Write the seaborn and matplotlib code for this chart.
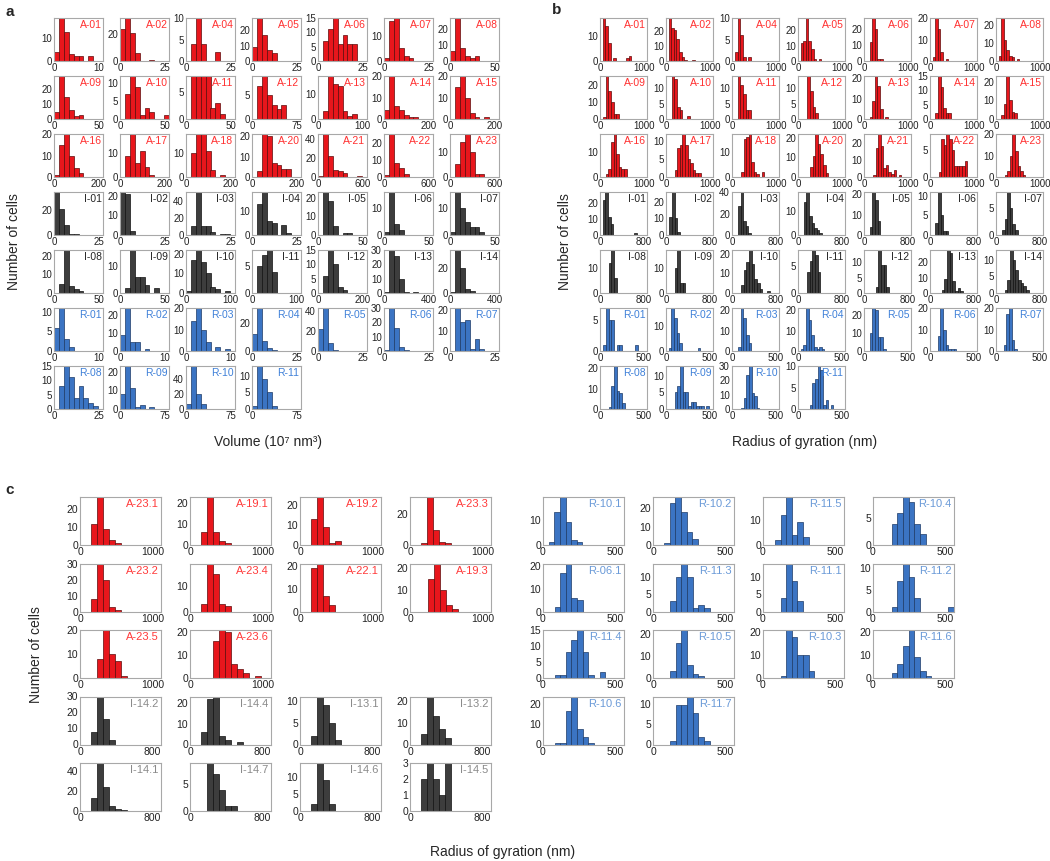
import numpy as np
import pandas as pd
import matplotlib
matplotlib.use("Agg")
import matplotlib.pyplot as plt
from matplotlib.ticker import MaxNLocator
import seaborn as sns

sns.set_style("white")
plt.rcParams['font.family'] = ['Liberation Sans', 'DejaVu Sans']

# ---------------- Panel a : Volume (10^7 nm^3) ----------------
a_labels = ["A-01", "A-02", "A-04", "A-05", "A-06", "A-07", "A-08",
            "A-09", "A-10", "A-11", "A-12", "A-13", "A-14", "A-15",
            "A-16", "A-17", "A-18", "A-20", "A-21", "A-22", "A-23",
            "I-01", "I-02", "I-03", "I-04", "I-05", "I-06", "I-07",
            "I-08", "I-09", "I-10", "I-11", "I-12", "I-13", "I-14",
            "R-01", "R-02", "R-03", "R-04", "R-05", "R-06", "R-07",
            "R-08", "R-09", "R-10", "R-11"]
# labelled x tick (the axis runs a little past it)
a_xmax = [10, 25, 25, 25, 25, 25, 50,
          50, 50, 50, 75, 100, 200, 200,
          200, 200, 200, 200, 600, 600, 600,
          25, 25, 25, 25, 50, 50, 50,
          50, 50, 100, 100, 200, 400, 400,
          10, 10, 10, 25, 25, 25, 25,
          25, 75, 75, 75]
a_width = [1.1, 2.75, 2.75, 2.75, 2.75, 2.75, 5.5,
           5.5, 5.5, 5.5, 8.25, 11, 22, 22,
           22, 22, 22, 22, 66, 66, 66,
           2.75, 2.75, 2.75, 2.75, 5.5, 5.5, 5.5,
           5.5, 5.5, 11, 11, 22, 44, 44,
           1.1, 1.1, 1.1, 2.75, 2.75, 2.75, 2.75,
           2.75, 8.25, 8.25, 8.25]
a_counts = [[4, 19, 13, 3, 2, 2, 0, 2], [24, 32, 21, 6, 0, 0, 1], [0, 4, 10, 4, 0, 0, 2],
            [9, 28, 17, 7, 5], [0, 7, 11, 15, 6, 9, 6, 6], [1, 16, 17, 5, 2, 1], [6, 27, 8, 3, 2, 3],
            [5, 29, 15, 6, 2, 3], [0, 7, 12, 9, 1, 3, 2, 0, 0, 1], [0, 8, 8, 8, 8, 2, 3, 1],
            [0, 7, 9, 5, 3, 2, 3], [0, 3, 17, 14, 13, 3, 1, 2], [4, 20, 6, 4, 2, 1, 1],
            [0, 15, 20, 10, 3, 1, 0, 1],
            [1, 15, 20, 10, 4, 2], [0, 9, 18, 6, 11, 4, 1], [0, 10, 18, 18, 11, 3, 0, 1],
            [0, 3, 21, 20, 7, 6, 4, 4], [1, 45, 22, 7, 6, 4, 0, 0, 1], [1, 25, 8, 5, 2],
            [0, 5, 14, 17, 10, 1, 1],
            [35, 21, 8, 1, 1], [22, 21, 2], [0, 10, 50, 11, 10, 4, 0, 1, 1], [0, 13, 18, 6, 5, 0, 4, 1],
            [0, 23, 18, 5, 0, 1, 1], [1, 16, 4, 2], [1, 16, 10, 5, 3, 3, 1],
            [0, 5, 23, 4, 2, 1], [0, 2, 16, 6, 6, 3, 0, 2], [1, 17, 22, 16, 10, 3, 2, 0, 1],
            [0, 5, 7, 8, 4], [0, 6, 15, 10, 2, 1], [1, 30, 26, 10, 1, 0, 1], [1, 35, 20, 3, 2],
            [6, 11, 3, 1], [9, 24, 5, 5, 0, 1], [0, 14, 20, 10, 4, 0, 2, 0, 1], [12, 31, 7, 2, 1],
            [22, 43, 8, 1], [1, 30, 16, 3, 1], [0, 21, 14, 15, 1, 6, 1],
            [0, 8, 15, 11, 4, 8, 4, 2, 1], [8, 23, 11, 1, 2, 0, 1], [6, 57, 20, 7], [1, 13, 9, 5, 1]]

# ---------------- Panel b : Radius of gyration (nm) ----------------
b_labels = list(a_labels)
b_xmax = [1000] * 21 + [800] * 14 + [500] * 11
b_width = [59] * 21 + [48] * 14 + [30] * 11
b_start = [64, 59, 75, 59, 128, 59, 59,
           75, 134, 134, 214, 128, 123, 121,
           134, 198, 203, 273, 203, 198, 198,
           48, 59, 107, 102, 102, 96, 107,
           160, 160, 166, 166, 214, 214, 160,
           39, 31, 68, 31, 65, 88, 88,
           100, 100, 103, 134]
b_counts = [[17, 14, 7, 0, 1, 0, 0, 0, 0, 1, 2], [29, 22, 21, 15, 6, 3, 1, 0, 0, 1], [2, 10, 6, 1, 0, 1],
            [12, 13, 28, 13, 8, 1, 0, 1], [12, 27, 20, 1, 1], [2, 20, 15, 4, 0, 1], [3, 24, 12, 6, 3, 2, 0, 1],
            [1, 25, 16, 10, 3, 3], [14, 13, 4, 3, 0, 0, 1], [14, 11, 8, 3, 3], [14, 9, 4, 2],
            [1, 9, 21, 16, 5, 0, 1], [2, 15, 11, 4, 2, 2], [2, 8, 23, 10, 4, 3],
            [1, 3, 14, 17, 9, 4, 3, 3], [2, 8, 9, 12, 9, 5, 4, 2, 1, 1], [2, 15, 16, 17, 6, 2, 1, 0, 2],
            [5, 11, 22, 17, 12, 6, 2], [1, 17, 25, 18, 5, 7, 3, 2, 4, 0, 1],
            [1, 7, 6, 8, 7, 5, 2, 2, 2, 2, 3], [1, 3, 10, 20, 12, 5, 3, 1],
            [22, 27, 11, 7, 0, 0, 0, 0, 0, 0, 0, 0, 1], [11, 26, 10, 2], [27, 40, 13, 8, 2],
            [14, 18, 8, 5, 3, 2, 1], [4, 21, 17, 7], [3, 11, 5, 1, 1], [1, 3, 8, 5, 2, 1],
            [12, 17, 6], [10, 17, 4, 4], [4, 12, 16, 22, 15, 7, 5, 2, 0, 0, 1], [4, 6, 8, 7, 4],
            [2, 14, 9, 9, 2], [2, 9, 28, 26, 8, 1, 3, 1], [1, 4, 13, 10, 7, 4, 3, 2, 1],
            [1, 7, 5, 5, 0, 1, 1, 0, 0, 0, 0, 0, 1], [1, 17, 13, 7, 3, 0, 0, 0, 0, 0, 0, 1],
            [2, 21, 16, 8, 4], [1, 3, 21, 15, 8, 2, 1, 2, 1], [10, 24, 23, 8, 8, 1],
            [7, 20, 10, 3, 1, 1, 1], [3, 17, 20, 5, 1],
            [1, 11, 21, 9, 8, 3], [5, 7, 13, 5, 5, 1, 2, 2, 1, 1, 1, 0, 1], [1, 8, 24, 30, 11, 9, 1],
            [1, 6, 7, 10, 9, 1, 2, 0, 1]]

# ---------------- Panel c : Radius of gyration (nm), sub-clones ----------------
c_left_labels = ["A-23.1", "A-19.1", "A-19.2", "A-23.3",
                 "A-23.2", "A-23.4", "A-22.1", "A-19.3",
                 "A-23.5", "A-23.6",
                 "I-14.2", "I-14.4", "I-13.1", "I-13.2",
                 "I-14.1", "I-14.7", "I-14.6", "I-14.5"]
c_left_xmax = [1000] * 10 + [800] * 8
c_left_width = [83] * 10 + [66] * 8
c_left_start = [152, 149, 149, 158, 152, 149, 149, 243, 235, 317,
                122, 120, 120, 127, 122, 187, 120, 127]
c_left_counts = [[12, 27, 9, 3, 1], [6, 23, 6, 2, 1], [13, 24, 9, 1, 2], [1, 31, 10, 2, 1],
                 [8, 30, 20, 3, 1], [3, 19, 15, 3, 2], [19, 21, 7, 3], [15, 22, 10, 3, 1],
                 [8, 20, 10, 7, 1], [16, 21, 20, 6, 4, 2, 0, 1],
                 [8, 30, 16, 3], [6, 22, 23, 4, 2, 0, 1], [2, 11, 9, 5, 1], [5, 22, 13, 7, 3],
                 [13, 48, 24, 5, 2, 1], [9, 7, 4, 1, 1], [2, 14, 9, 2], [2, 3, 2, 1, 3]]

c_right_labels = ["R-10.1", "R-10.2", "R-11.5", "R-10.4",
                  "R-06.1", "R-11.3", "R-11.1", "R-11.2",
                  "R-11.4", "R-10.5", "R-10.3", "R-11.6",
                  "R-10.6", "R-11.7"]
c_right_xmax = [500] * 14
c_right_width = [39] * 14
c_right_start = [39, 77, 82, 129, 80, 118, 121, 129, 80, 118, 121, 129, 80, 118]
c_right_counts = [[1, 13, 19, 9, 2, 1], [1, 23, 26, 18, 7, 3], [2, 12, 19, 4, 9, 3], [4, 6, 9, 8, 4, 2],
                  [2, 17, 21, 6, 5], [3, 10, 14, 10, 1, 2, 1], [4, 14, 9, 3], [1, 7, 11, 8, 3, 0, 0, 0, 0, 0, 1],
                  [1, 1, 8, 12, 15, 8, 1, 0, 2], [3, 16, 22, 6, 2, 1], [1, 21, 18, 10, 10, 3],
                  [2, 6, 14, 21, 9, 3, 1],
                  [1, 1, 17, 24, 8, 4, 1], [1, 10, 10, 12, 8, 2, 1]]

# ---------------- styling ----------------
BAR = {"A": ("#E8161C", "#5c0b0b"), "I": ("#3d3d3d", "#111111"), "R": ("#3B74C3", "#1d3a66")}
TXT_AB = {"A": "#FF3030", "I": "#222222", "R": "#3F80D8"}
TXT_C = {"A": "#FF3A3A", "I": "#8a8a8a", "R": "#6A9AD8"}

W, H = 1050, 861
fig = plt.figure(figsize=(W / 100, H / 100), dpi=100)


def add_ax(left, top, w, h):
    return fig.add_axes([left / W, 1 - (top + h) / H, w / W, h / H])


def draw(ax, label, counts, start, width, xmax, pad, txtcol, tfs, lfs):
    counts = np.asarray(counts, dtype=float)
    edges = start + width * np.arange(len(counts) + 1)
    centers = (edges[:-1] + edges[1:]) / 2
    df = pd.DataFrame({"x": centers, "w": counts})
    fc, ec = BAR[label[0]]
    sns.histplot(data=df, x="x", weights="w", bins=list(edges), ax=ax, color=fc,
                 edgecolor=ec, linewidth=0.5, alpha=1.0)
    ax.set_xlim(0, xmax * pad)
    ax.set_ylim(0, counts.max())
    ax.set_xticks([0, xmax])
    ax.set_xticklabels(["0", f"{xmax:g}"])
    ax.yaxis.set_major_locator(MaxNLocator(nbins=3, steps=[1, 2, 5, 10], integer=True))
    ax.set_xlabel("")
    ax.set_ylabel("")
    ax.tick_params(axis="both", direction="in", length=2, width=0.5, color="#888888",
                   labelsize=tfs, pad=1.5, labelcolor="#222222")
    for s in ax.spines.values():
        s.set_color("#a8a8a8")
        s.set_linewidth(0.8)
    ax.text(0.97, 0.95, label, transform=ax.transAxes, ha="right", va="top",
            fontsize=lfs, color=txtcol)


# panel a and b grids
rows_a = [7, 7, 7, 7, 7, 7, 4]
for panel, (labels, xmaxs, widths, starts, counts, left0, aw, pad) in {
        "a": (a_labels, a_xmax, a_width, [0] * len(a_labels), a_counts, 54, 49, 1.1),
        "b": (b_labels, b_xmax, b_width, b_start, b_counts, 600, 47, 1.07)}.items():
    k = 0
    for i, n in enumerate(rows_a):
        for j in range(n):
            ax = add_ax(left0 + 66 * j, 18 + 58 * i, aw, 43)
            lab = labels[k]
            draw(ax, lab, counts[k], starts[k], widths[k], xmaxs[k], pad,
                 TXT_AB[lab[0]], 7, 7.5)
            k += 1

# panel c
left_rows = [4, 4, 2, 4, 4]
k = 0
for i, n in enumerate(left_rows):
    for j in range(n):
        ax = add_ax(80 + 110 * j, 497 + 66.5 * i, 81, 48)
        lab = c_left_labels[k]
        draw(ax, lab, c_left_counts[k], c_left_start[k], c_left_width[k], c_left_xmax[k], 1.12,
             TXT_C[lab[0]], 7.5, 8)
        k += 1
right_rows = [4, 4, 4, 2]
k = 0
for i, n in enumerate(right_rows):
    for j in range(n):
        ax = add_ax(543 + 110 * j, 497 + 66.5 * i, 81, 48)
        lab = c_right_labels[k]
        draw(ax, lab, c_right_counts[k], c_right_start[k], c_right_width[k], c_right_xmax[k], 1.12,
             TXT_C[lab[0]], 7.5, 8)
        k += 1

# panel letters and axis labels
fig.text(5 / W, 1 - 12 / H, "a", fontsize=11, fontweight="bold", va="center", ha="left")
fig.text(552 / W, 1 - 10 / H, "b", fontsize=11, fontweight="bold", va="center", ha="left")
fig.text(5 / W, 1 - 490 / H, "c", fontsize=11, fontweight="bold", va="center", ha="left")

fig.text(14 / W, 1 - 242 / H, "Number of cells", rotation=90, fontsize=10, va="center", ha="center")
fig.text(565 / W, 1 - 242 / H, "Number of cells", rotation=90, fontsize=10, va="center", ha="center")
fig.text(36 / W, 1 - 655 / H, "Number of cells", rotation=90, fontsize=10, va="center", ha="center")

fig.text(268 / W, 1 - 442 / H, "Volume (10\u2077 nm\u00b3)", fontsize=10, va="center", ha="center")
fig.text(805 / W, 1 - 442 / H, "Radius of gyration (nm)", fontsize=10, va="center", ha="center")
fig.text(503 / W, 1 - 852 / H, "Radius of gyration (nm)", fontsize=10, va="center", ha="center")

fig.savefig("out.png", dpi=100)
